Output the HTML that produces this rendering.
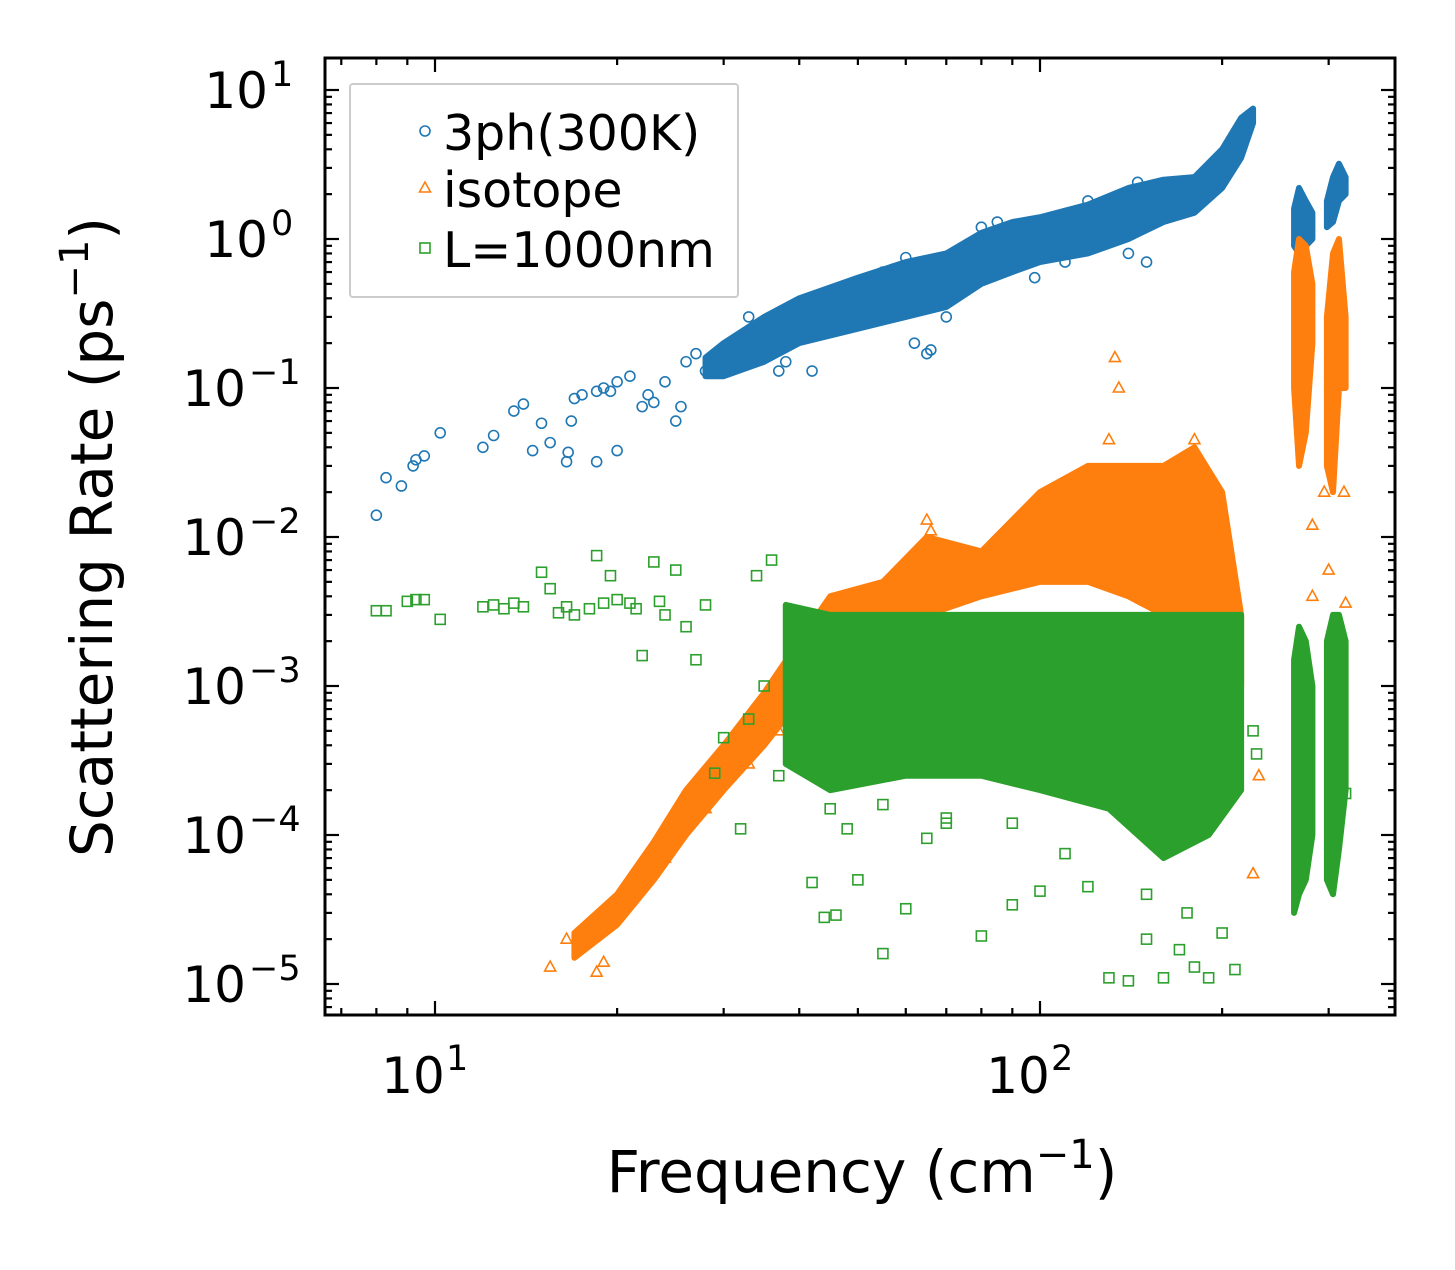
<!DOCTYPE html>
<html><head><meta charset="utf-8"><style>
body{margin:0;background:#fff}
svg text{font-family:"DejaVu Sans","Liberation Sans",sans-serif;fill:#000}
</style></head><body>
<svg id="c" width="1455" height="1265" xmlns="http://www.w3.org/2000/svg"></svg>
<script>
// ---- data ----
const blueBandF=[28,30,35,40,50,60,70,80,90,100,120,140,160,180,200,215,225];
const blueBandLo=[0.12,0.12,0.15,0.2,0.25,0.3,0.35,0.5,0.6,0.7,0.8,1.0,1.3,1.5,2.2,3.5,6];
const blueBandHi=[0.16,0.2,0.3,0.4,0.55,0.7,0.8,1.1,1.3,1.4,1.7,2.2,2.5,2.6,4,6.5,7.5];
const blueBand2F=[263,268,275,282];const blueBand2Lo=[0.9,0.8,0.9,1.0];const blueBand2Hi=[1.6,2.2,1.8,1.5];
const blueBand3F=[298,305,312,320];const blueBand3Lo=[1.2,1.3,1.8,2.0];const blueBand3Hi=[1.8,2.6,3.2,2.6];
const blueF=[8,8.3,8.8,9.2,9.3,9.6,10.2,12,12.5,13.5,14,14.5,15,15.5,16.5,16.6,16.8,17,17.5,18.5,18.5,19,19.5,20,20,21,22,22.5,23,24,25,25.5,26,27,28,37,62,65,66,140,150,33,45,38,42,55,80,85,120,145,98,70,110,60];
const blueV=[0.014,0.025,0.022,0.03,0.033,0.035,0.05,0.04,0.048,0.07,0.078,0.038,0.058,0.043,0.032,0.037,0.06,0.085,0.09,0.032,0.095,0.1,0.095,0.038,0.11,0.12,0.075,0.09,0.08,0.11,0.06,0.075,0.15,0.17,0.13,0.13,0.2,0.17,0.18,0.8,0.7,0.3,0.45,0.15,0.13,0.6,1.2,1.3,1.8,2.4,0.55,0.3,0.7,0.75];
const orBandF=[17,20,23,26,30,35,40,45,55,65,80,100,120,140,160,180,200,215];
const orBandLo=[1.5e-5,2.5e-5,5e-5,1e-4,2e-4,4e-4,8e-4,1.5e-3,2e-3,3e-3,4e-3,5e-3,5e-3,4e-3,3e-3,3e-3,3e-3,1e-3];
const orBandHi=[2.2e-5,4e-5,9e-5,2e-4,4e-4,9e-4,2e-3,4e-3,5e-3,1e-2,8e-3,2e-2,3e-2,3e-2,3e-2,4e-2,2e-2,3e-3];
const orBand2F=[263,268,275,282];const orBand2Lo=[0.1,0.03,0.05,0.2];const orBand2Hi=[0.6,1.0,0.9,0.5];
const orBand3F=[298,305,312,320];const orBand3Lo=[0.03,0.02,0.1,0.1];const orBand3Hi=[0.3,0.8,1.0,0.3];
const orF=[15.5,16.5,18.5,19,133,135,225,230,320,282,282,295,300,318,24,28,33,37,65,66,130,180];
const orV=[1.3e-5,2e-5,1.2e-5,1.4e-5,0.16,0.1,5.5e-5,2.5e-4,3.6e-3,4e-3,0.012,0.02,0.006,0.02,7e-5,1.5e-4,3e-4,5e-4,1.3e-2,1.1e-2,4.5e-2,4.5e-2];
const grBandF=[38,45,60,80,100,130,160,190,215];
const grBandLo=[3e-4,2e-4,2.5e-4,2.5e-4,2e-4,1.5e-4,7e-5,1e-4,2e-4];
const grBandHi=[3.5e-3,3e-3,3e-3,3e-3,3e-3,3e-3,3e-3,3e-3,3e-3];
const grBand2F=[263,268,275,282];const grBand2Lo=[3e-5,4e-5,5e-5,1e-4];const grBand2Hi=[1.5e-3,2.5e-3,2e-3,1e-3];
const grBand3F=[298,305,312,320];const grBand3Lo=[5e-5,4e-5,8e-5,2e-4];const grBand3Hi=[2e-3,3e-3,3e-3,2e-3];
const grF=[8,8.3,9,9.3,9.6,10.2,12,12.5,13,13.5,14,15,15.5,16,16.5,17,18,18.5,19,19.5,20,21,21.5,22,23,23.5,24,25,26,27,28,29,30,32,33,34,35,36,37,42,44,46,48,50,55,60,65,70,80,90,100,110,120,130,140,150,160,170,180,190,200,210,225,228,320,45,55,70,90,150,175];
const grV=[3.2e-3,3.2e-3,3.7e-3,3.8e-3,3.8e-3,2.8e-3,3.4e-3,3.5e-3,3.3e-3,3.6e-3,3.4e-3,5.8e-3,4.5e-3,3.1e-3,3.4e-3,3e-3,3.3e-3,7.5e-3,3.6e-3,5.5e-3,3.8e-3,3.6e-3,3.3e-3,1.6e-3,6.8e-3,3.7e-3,3e-3,6e-3,2.5e-3,1.5e-3,3.5e-3,2.6e-4,4.5e-4,1.1e-4,6e-4,5.5e-3,1e-3,7e-3,2.5e-4,4.8e-5,2.8e-5,2.9e-5,1.1e-4,5e-5,1.6e-5,3.2e-5,9.5e-5,1.2e-4,2.1e-5,3.4e-5,4.2e-5,7.5e-5,4.5e-5,1.1e-5,1.05e-5,2e-5,1.1e-5,1.7e-5,1.3e-5,1.1e-5,2.2e-5,1.25e-5,5e-4,3.5e-4,1.9e-4,1.5e-4,1.6e-4,1.3e-4,1.2e-4,4e-5,3e-5];
const xTicks=[10,100];const xTickExp=["1","2"];
const yTicks=[10,1,0.1,0.01,0.001,1e-4,1e-5];const yTickExp=["1","0","−1","−2","−3","−4","−5"];
// ---- axes ----
const L=325,R=1395,T=58,B=1015;
const X=f=>435+(Math.log10(f)-1)*605;
const Y=v=>90+(1-Math.log10(v))*149;
const svg=document.getElementById('c');const NS='http://www.w3.org/2000/svg';
function el(t,a,p){const e=document.createElementNS(NS,t);for(const k in a)e.setAttribute(k,a[k]);(p||svg).appendChild(e);return e;}
const C={b:'#1f77b4',o:'#ff7f0e',g:'#2ca02c'};
function band(F,Lo,Hi,col,name){
  let d='M'+F.map((f,i)=>X(f)+','+Y(Hi[i])).join('L')+'L'+F.slice().reverse().map((f,i)=>X(f)+','+Y(Lo[Lo.length-1-i])).join('L')+'Z';
  const p=el('path',{d:d,fill:col,stroke:col,'stroke-width':6,'stroke-linejoin':'round'});
  
  
}
function marker(type,x,y,col,g){
  let e;
  if(type==='c')e=el('circle',{cx:x,cy:y,r:5,fill:'none',stroke:col,'stroke-width':1.6},g);
  else if(type==='t')e=el('path',{d:`M${x},${y-6}L${x+5.5},${y+4}L${x-5.5},${y+4}Z`,fill:'none',stroke:col,'stroke-width':1.6},g);
  else e=el('rect',{x:x-5,y:y-5,width:10,height:10,fill:'none',stroke:col,'stroke-width':1.6},g);
  return e;
}
function pts(F,V,type,col,name){
  const g=el('g',{});
  F.forEach((f,i)=>{const m=marker(type,X(f),Y(V[i]),col,g);
    
    });
}
band(blueBandF,blueBandLo,blueBandHi,C.b,'3ph-dense-band');
band(blueBand2F,blueBand2Lo,blueBand2Hi,C.b,'3ph-band-high1');
band(blueBand3F,blueBand3Lo,blueBand3Hi,C.b,'3ph-band-high2');
pts(blueF,blueV,'c',C.b,'3ph-series');
band(orBandF,orBandLo,orBandHi,C.o,'isotope-dense-band');
band(orBand2F,orBand2Lo,orBand2Hi,C.o,'isotope-band-high1');
band(orBand3F,orBand3Lo,orBand3Hi,C.o,'isotope-band-high2');
pts(orF,orV,'t',C.o,'isotope-series');
band(grBandF,grBandLo,grBandHi,C.g,'boundary-dense-band');
band(grBand2F,grBand2Lo,grBand2Hi,C.g,'boundary-band-high1');
band(grBand3F,grBand3Lo,grBand3Hi,C.g,'boundary-band-high2');
pts(grF,grV,'s',C.g,'boundary-series');
// frame
const fr=el('rect',{x:L,y:T,width:R-L,height:B-T,fill:'none',stroke:'#000','stroke-width':3});

// ticks
const tg=el('g',{stroke:'#000','stroke-width':2.2});

for(let e=0;e<=2;e++)for(let k=1;k<10;k++){const f=k*Math.pow(10,e);const x=X(f);if(x<L||x>R)continue;const len=k===1?14:7;
  el('line',{x1:x,y1:B,x2:x,y2:B-len},tg);el('line',{x1:x,y1:T,x2:x,y2:T+len},tg);}
for(let e=-6;e<=1;e++)for(let k=1;k<10;k++){const v=k*Math.pow(10,e);const y=Y(v);if(y<T||y>B)continue;const len=k===1?14:7;
  el('line',{x1:L,y1:y,x2:L+len,y2:y},tg);el('line',{x1:R,y1:y,x2:R-len,y2:y},tg);}
xTicks.forEach((f,i)=>{const t=el('text',{x:X(f)-22,y:1093,'font-size':50,'text-anchor':'middle'});
  t.textContent='10';const s=el('text',{x:X(f)+11,y:1070,'font-size':35});s.textContent=xTickExp[i];
  
  });
yTicks.forEach((v,i)=>{const two=yTickExp[i].length>1;
  const t=el('text',{x:two?246:268,y:Y(v)+18,'font-size':50,'text-anchor':'end'});
  t.textContent='10';const s=el('text',{x:two?249:271,y:Y(v)-4,'font-size':35,'text-anchor':'start'});s.textContent=yTickExp[i];
  
  });
const xl=el('text',{x:862,y:1192,'font-size':58,'text-anchor':'middle'});xl.innerHTML='Frequency (cm<tspan dy="-24" font-size="40">−1</tspan><tspan dy="24">)</tspan>';

const yl=el('text',{x:0,y:0,'font-size':58,'text-anchor':'middle',transform:'translate(112,537) rotate(-90)'});yl.innerHTML='Scattering Rate (ps<tspan dy="-24" font-size="40">−1</tspan><tspan dy="24">)</tspan>';

// legend
const lg=el('g',{});
el('rect',{x:350,y:84,width:388,height:213,fill:'#fff','fill-opacity':0.8,stroke:'#ccc','stroke-width':2,rx:3},lg);
[['c',C.b,'3ph(300K)',133],['t',C.o,'isotope',190],['s',C.g,'L=1000nm',250]].forEach(([m,c,lab,y])=>{
  const g=el('g',{},lg);
  marker(m,425,y-2,c,g);const t=el('text',{x:443,y:y+17,'font-size':49},g);t.textContent=lab;});
</script>
</body></html>
